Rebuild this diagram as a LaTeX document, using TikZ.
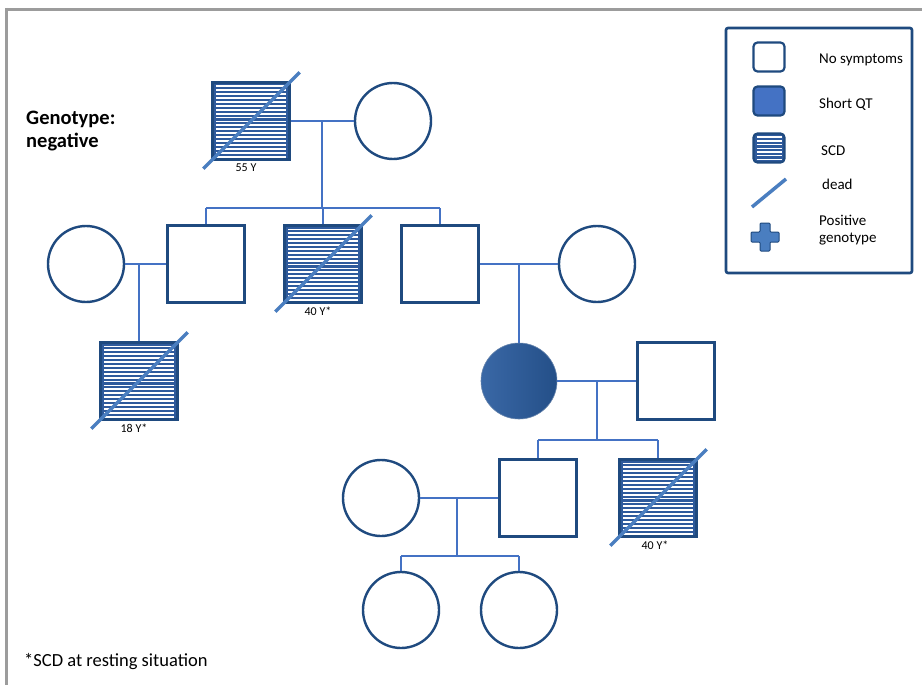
\documentclass[tikz,border=0pt]{standalone}
\usepackage{fontspec}
\setmainfont{Carlito}
\usetikzlibrary{calc}
\definecolor{navy}{HTML}{1F4A7F}
\definecolor{conn}{HTML}{4472C4}
\definecolor{hatchblue}{HTML}{2E5A9C}
\definecolor{deadc}{HTML}{4A7EC0}
\definecolor{frameg}{HTML}{9C9C9C}
\definecolor{qtfill}{HTML}{4472C4}
\definecolor{circL}{HTML}{3A68A6}
\definecolor{circR}{HTML}{244F88}
\begin{document}
\begin{tikzpicture}[x=1pt,y=-1pt,
  lin/.style={draw=conn, line width=1.8pt},
  sq/.style={rectangle, draw=navy, line width=2.4pt, minimum size=77pt, inner sep=0pt, fill=white},
  ci/.style={circle, draw=navy, line width=2.4pt, minimum size=76pt, inner sep=0pt, fill=white},
  hatch/.style={fill=hatchblue, path picture={\foreach \k in {1,...,20}{\draw[white,line width=1.8pt] ([shift={(3.5pt,-\k*3.9pt)}]path picture bounding box.north west) -- ([shift={(-3.5pt,-\k*3.9pt)}]path picture bounding box.north east);}}},
  hatchs/.style={fill=hatchblue, path picture={\foreach \k in {1,...,7}{\draw[white,line width=1.5pt] ([shift={(3pt,-\k*3.7pt)}]path picture bounding box.north west) -- ([shift={(-3pt,-\k*3.7pt)}]path picture bounding box.north east);}}},
  deadline/.style={draw=deadc, line width=3.5pt},
  age/.style={font=\fontsize{12}{13}\selectfont, inner sep=0pt},
  lab/.style={font=\fontsize{15}{17}\selectfont, anchor=west, inner sep=0pt},
  leg/.style={rectangle, rounded corners=4pt, draw=navy, line width=2.2pt, minimum width=31pt, minimum height=29pt, inner sep=0pt}]
\useasboundingbox (0,0) rectangle (922,685);
\fill[white] (0,0) rectangle (922,685);
% frame
\draw[frameg, line width=3pt] (5,9.5) -- (922,9.5);
\draw[frameg, line width=3pt] (6.5,8) -- (6.5,685);

% ---- Generation I
\node[sq, hatch] (I1) at (251,121) {};
\node[ci] (I2) at (393,121) {};
% ---- Generation II
\node[ci] (II1) at (86,264) {};
\node[sq] (II2) at (206,264) {};
\node[sq, hatch] (II3) at (323,264) {};
\node[sq] (II4) at (440,264) {};
\node[ci] (II5) at (597,264) {};
% ---- Generation III
\node[sq, hatch] (III1) at (139,381) {};
\node[circle, minimum size=76pt, inner sep=0pt, draw=circR!70!white, line width=0.6pt, shading=axis, shading angle=60, left color=circL, right color=circR] (III2) at (519,381) {};
\node[sq] (III3) at (676,381) {};
% ---- Generation IV
\node[ci] (IV1) at (381,498) {};
\node[sq] (IV2) at (538,498) {};
\node[sq, hatch] (IV3) at (658,498) {};
% ---- Generation V
\node[ci] (V1) at (401,610) {};
\node[ci] (V2) at (519,610) {};

% ---- connectors
\coordinate (m1) at (322,121);
\coordinate (s1) at (322,208);
\draw[lin] (I1.east) -- (I2.west);
\draw[lin] (m1) -- (s1);
\draw[lin] (II2.north |- s1) -- (II4.north |- s1);
\draw[lin] (II2.north |- s1) -- (II2.north);
\draw[lin] (II3.north |- s1) -- (II3.north);
\draw[lin] (II4.north |- s1) -- (II4.north);

\draw[lin] (II1.east) -- (II2.west);
\draw[lin] (III1.north |- II1.east) -- (III1.north);

\draw[lin] (II4.east) -- (II5.west);
\draw[lin] (III2.north |- II4.east) -- (III2.north);

\coordinate (m3) at (597,381);
\coordinate (s3) at (597,440);
\draw[lin] (III2.east) -- (III3.west);
\draw[lin] (m3) -- (s3);
\draw[lin] (IV2.north |- s3) -- (IV3.north |- s3);
\draw[lin] (IV2.north |- s3) -- (IV2.north);
\draw[lin] (IV3.north |- s3) -- (IV3.north);

\coordinate (m4) at (457,498);
\coordinate (s4) at (457,556);
\draw[lin] (IV1.east) -- (IV2.west);
\draw[lin] (m4) -- (s4);
\draw[lin] (V1.north |- s4) -- (V2.north |- s4);
\draw[lin] (V1.north |- s4) -- (V1.north);
\draw[lin] (V2.north |- s4) -- (V2.north);

% ---- dead lines
\foreach \n in {I1,II3,III1,IV3}{
  \draw[deadline] ([shift={(-8,8)}]\n.south west) -- ([shift={(9,-9)}]\n.north east);
}

% ---- ages
\node[age, anchor=north] (a1) at ([shift={(-5,3)}]I1.south) {55 Y};
\node[age, anchor=north] (a2) at ([shift={(-5,3)}]II3.south) {40 Y*};
\node[age, anchor=north] (a3) at ([shift={(-5,3)}]III1.south) {18 Y*};
\node[age, anchor=north] (a4) at ([shift={(-3,3)}]IV3.south) {40 Y*};

% ---- texts
\node[anchor=west, inner sep=0pt, align=left, font=\fontsize{20.5}{23}\selectfont\bfseries] (gt) at (26,131) {Genotype:\\negative};
\node[anchor=west, inner sep=0pt, font=\fontsize{18.5}{20}\selectfont] (fn) at (24,662) {*SCD at resting situation};

% ---- legend
\node[rectangle, rounded corners=2pt, draw=navy, line width=2.6pt, minimum width=186pt, minimum height=245pt, inner sep=0pt] (L) at (819,150.5) {};
\node[leg, fill=white] (L1) at (769,57) {};
\node[leg, fill=qtfill] (L2) at (769,101) {};
\node[leg, hatchs] (L3) at (769,148) {};
\coordinate (L4a) at (752,207);
\coordinate (L4b) at (786,179);
\draw[deadline] (L4a) -- (L4b);
\draw[navy, line width=1pt, fill=deadc, rounded corners=1pt] (760,223) -- (770,223) -- (770,232) -- (779,232) -- (779,242) -- (770,242) -- (770,251) -- (760,251) -- (760,242) -- (751,242) -- (751,232) -- (760,232) -- cycle;
\node[lab] (t1) at (819,60) {No symptoms};
\node[lab] (t2) at (819,104) {Short QT};
\node[lab] (t3) at (821,151) {SCD};
\node[lab] (t4) at (822,184) {dead};
\node[lab, align=left, anchor=north west] (t5) at (819,215) {Positive\\genotype};
\end{tikzpicture}
\end{document}
